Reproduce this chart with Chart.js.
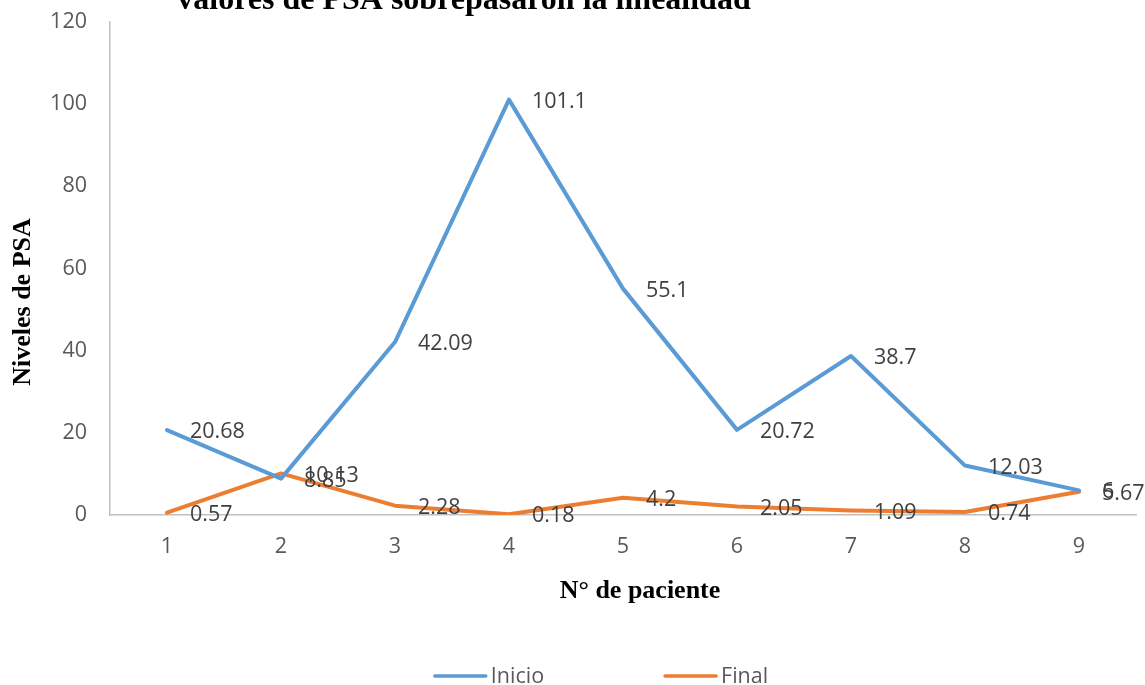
<!DOCTYPE html>
<html>
<head>
<meta charset="utf-8">
<script src="https://cdn.jsdelivr.net/npm/chart.js@4.4.1/dist/chart.umd.min.js"></script>
<style>
  html, body { margin: 0; padding: 0; background: #ffffff; }
  #wrap { width: 1145px; height: 685px; position: relative; }
</style>
</head>
<body>
<div id="wrap"><canvas id="c" width="1145" height="685"></canvas></div>
<script>
// Patient numbers and PSA levels at start and end of treatment
const pacientes = ['1', '2', '3', '4', '5', '6', '7', '8', '9'];
const inicio = [20.68, 8.85, 42.09, 101.1, 55.1, 20.72, 38.7, 12.03, 6];
const final = [0.57, 10.13, 2.28, 0.18, 4.2, 2.05, 1.09, 0.74, 5.67];
const yTicks = [0, 20, 40, 60, 80, 100, 120];

const tituloGrafico = 'valores de PSA sobrepasaron la linealidad';
const tituloX = 'N° de paciente';
const tituloY = 'Niveles de PSA';

const AZUL = '#5B9BD5';
const NARANJA = '#ED7D31';
const SANS = '"Open Sans", "Liberation Sans", sans-serif';
const SERIF = '"Liberation Serif", "Times New Roman", serif';
const TXT = 21.5;

// Titles, value labels and legend drawn on top of the chart
const textos = {
  id: 'textos',
  afterDraw(chart) {
    const ctx = chart.ctx;
    ctx.save();

    // chart title (top part runs off the canvas)
    ctx.fillStyle = '#000000';
    ctx.font = 'bold 32px ' + SERIF;
    ctx.textAlign = 'center';
    ctx.textBaseline = 'alphabetic';
    ctx.fillText(tituloGrafico, 464, 9);

    // axis titles
    ctx.font = 'bold 26px ' + SERIF;
    ctx.textBaseline = 'middle';
    ctx.fillText(tituloX, 640, 591);
    ctx.save();
    ctx.translate(23, 302);
    ctx.rotate(-Math.PI / 2);
    ctx.fillText(tituloY, 0, 0);
    ctx.restore();

    // value labels to the right of each point
    ctx.font = TXT + 'px ' + SANS;
    ctx.fillStyle = '#404040';
    ctx.textAlign = 'left';
    ctx.textBaseline = 'middle';
    chart.data.datasets.forEach((ds, i) => {
      const meta = chart.getDatasetMeta(i);
      meta.data.forEach((pt, j) => {
        ctx.fillText(String(ds.data[j]), pt.x + 23, pt.y + 2);
      });
    });

    // legend
    const yLeg = 676;
    const largo = 53, hueco = 4, sep = 120;
    const anchos = chart.data.datasets.map(ds => largo + hueco + ctx.measureText(ds.label).width);
    const total = anchos.reduce((a, b) => a + b, 0) + sep * (anchos.length - 1);
    let x = 601 - total / 2;
    chart.data.datasets.forEach((ds, i) => {
      ctx.strokeStyle = ds.borderColor;
      ctx.lineWidth = 3.5;
      ctx.lineCap = 'round';
      ctx.beginPath();
      ctx.moveTo(x + 1, yLeg);
      ctx.lineTo(x + largo - 1, yLeg);
      ctx.stroke();
      ctx.fillStyle = '#595959';
      ctx.fillText(ds.label, x + largo + hueco, yLeg + 1);
      x += anchos[i] + sep;
    });

    ctx.restore();
  }
};

new Chart(document.getElementById('c'), {
  type: 'line',
  data: {
    labels: pacientes,
    datasets: [
      {
        label: 'Inicio',
        data: inicio,
        borderColor: AZUL,
        backgroundColor: AZUL,
        borderWidth: 4,
        pointRadius: 0,
        tension: 0,
        borderCapStyle: 'round',
        borderJoinStyle: 'round',
        fill: false
      },
      {
        label: 'Final',
        data: final,
        borderColor: NARANJA,
        backgroundColor: NARANJA,
        borderWidth: 4,
        pointRadius: 0,
        tension: 0,
        borderCapStyle: 'round',
        borderJoinStyle: 'round',
        fill: false
      }
    ]
  },
  options: {
    responsive: false,
    animation: false,
    devicePixelRatio: 1,
    layout: { padding: { left: 0, right: 9, top: 22, bottom: 0 } },
    plugins: {
      legend: { display: false },
      title: { display: false },
      tooltip: { enabled: false }
    },
    scales: {
      x: {
        type: 'category',
        offset: true,
        grid: { display: false, drawTicks: false },
        border: { display: true, color: '#BFBFBF', width: 1.5 },
        ticks: {
          color: '#595959',
          font: { family: SANS, size: TXT },
          padding: 19,
          maxRotation: 0
        },
        afterFit(scale) { scale.height = 170; }
      },
      y: {
        min: 0,
        max: 120,
        afterBuildTicks(scale) { scale.ticks = yTicks.map(v => ({ value: v })); },
        grid: { display: false, drawTicks: false },
        border: { display: true, color: '#BFBFBF', width: 1.5 },
        ticks: {
          color: '#595959',
          font: { family: SANS, size: TXT },
          padding: 23
        },
        afterFit(scale) {
          scale.width = 110;
          scale.paddingTop = 0;
          scale.paddingBottom = 0;
        }
      }
    }
  },
  plugins: [textos]
});
</script>
</body>
</html>
